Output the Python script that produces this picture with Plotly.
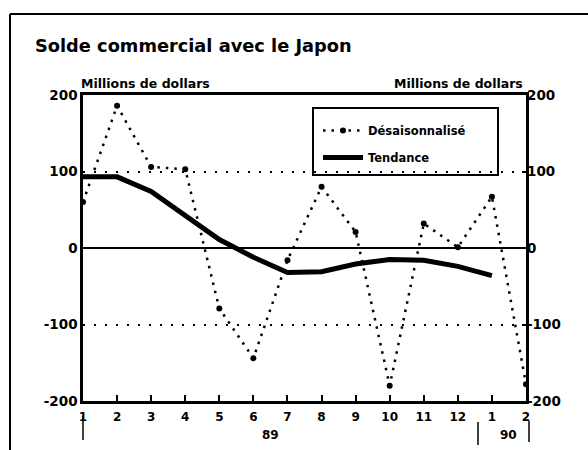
import plotly.graph_objects as go

months = ["1", "2", "3", "4", "5", "6", "7", "8", "9", "10", "11", "12", "1", "2"]
desaisonnalise = [60, 186, 106, 103, -79, -144, -16, 80, 21, -180, 32, 1, 67, -178]
tendance = [93, 93, 74, 42, 11, -12, -32, -31, -21, -15, -16, -24, -36]
year_labels = ["89", "90"]
y_ticks = [-200, -100, 0, 100, 200]
y_tick_text = ["-200", "-100", "0", "100", "200"]

x_all = list(range(1, len(months) + 1))
x_trend = x_all[:len(tendance)]

FONT = "DejaVu Sans"
L, R, T, B = 83, 526, 95, 401
W, H = R - L, B - T


def px(x):
    return (x - L) / W


def py(y):
    return (B - y) / H


fig = go.Figure()

fig.add_trace(go.Scatter(
    x=x_all, y=desaisonnalise, name="Désaisonnalisé", mode="lines+markers",
    legendgroup="a",
    line=dict(color="black", width=2.5, dash="2.5px,6px"),
    marker=dict(color="black", size=6), yaxis="y"))
fig.add_trace(go.Scatter(
    x=x_trend, y=tendance, name="Tendance", mode="lines",
    legendgroup="b",
    line=dict(color="black", width=5), yaxis="y2"))

yfont = dict(family=FONT, size=13.5, color="black", weight="bold")
xfont = dict(family=FONT, size=12, color="black", weight="bold")
fig.update_layout(
    width=588, height=450,
    margin=dict(l=L, r=588 - R, t=T, b=450 - B),
    paper_bgcolor="white", plot_bgcolor="white",
    showlegend=True,
    legend=dict(x=px(318), y=py(116), xanchor="left", yanchor="top",
                borderwidth=0, bgcolor="rgba(0,0,0,0)",
                font=dict(family=FONT, size=11.5, color="black", weight="bold"),
                tracegroupgap=8, itemwidth=40),
    xaxis=dict(range=[1, 14], tickvals=x_all, ticktext=months,
               showline=True, linecolor="black", linewidth=2.5, mirror=True,
               ticks="inside", ticklen=6, tickwidth=2, tickcolor="black",
               ticklabelstandoff=3,
               showgrid=False, zeroline=False, tickfont=xfont),
    yaxis=dict(range=[-200, 200], tickvals=y_ticks, ticktext=y_tick_text,
               showline=True, linecolor="black", linewidth=2.5, mirror=True,
               ticks="", showgrid=True, gridcolor="black", gridwidth=2,
               griddash="2px,9px",
               zeroline=True, zerolinecolor="black", zerolinewidth=2,
               tickfont=yfont),
    yaxis2=dict(range=[-200, 200], tickvals=y_ticks, ticktext=y_tick_text,
                overlaying="y", side="right", showgrid=False, zeroline=False,
                ticks="inside", ticklen=4, tickwidth=2, tickcolor="black",
                tickfont=yfont),
)

# Legend frame
fig.add_shape(type="rect", xref="paper", yref="paper",
              x0=px(313), x1=px(498), y0=py(108), y1=py(175),
              line=dict(color="black", width=2))

# Title and axis titles
fig.add_annotation(text="Solde commercial avec le Japon", xref="paper", yref="paper",
                   x=px(33), y=py(46), xanchor="left", yanchor="middle",
                   showarrow=False, font=dict(family=FONT, size=17.8, color="black", weight="bold"))
fig.add_annotation(text="Millions de dollars", xref="paper", yref="paper",
                   x=px(79), y=py(84), xanchor="left", yanchor="middle",
                   showarrow=False, font=dict(family=FONT, size=12.5, color="black", weight="bold"))
fig.add_annotation(text="Millions de dollars", xref="paper", yref="paper",
                   x=px(525), y=py(84), xanchor="right", yanchor="middle",
                   showarrow=False, font=dict(family=FONT, size=12.5, color="black", weight="bold"))

# Year labels
fig.add_annotation(text=year_labels[0], xref="x", yref="paper", x=6.5, y=py(435),
                   xanchor="center", yanchor="middle", showarrow=False, font=xfont)
fig.add_annotation(text=year_labels[1], xref="x", yref="paper", x=13.5, y=py(435),
                   xanchor="center", yanchor="middle", showarrow=False, font=xfont)

# Year separators
for xpix, y0, y1 in [(83, 416, 440), (478, 422, 445), (529, 421, 442)]:
    fig.add_shape(type="line", xref="paper", yref="paper", x0=px(xpix), x1=px(xpix),
                  y0=py(y0), y1=py(y1), line=dict(color="black", width=1.5))

# Outer frame
fig.add_shape(type="line", xref="paper", yref="paper",
              x0=px(10), x1=px(10), y0=py(14), y1=py(450),
              line=dict(color="black", width=2))
fig.add_shape(type="line", xref="paper", yref="paper",
              x0=px(10), x1=px(588), y0=py(14), y1=py(14),
              line=dict(color="black", width=2))

fig.write_html("out.html", config={"displayModeBar": False},
               post_script="document.body.style.margin='0';")
